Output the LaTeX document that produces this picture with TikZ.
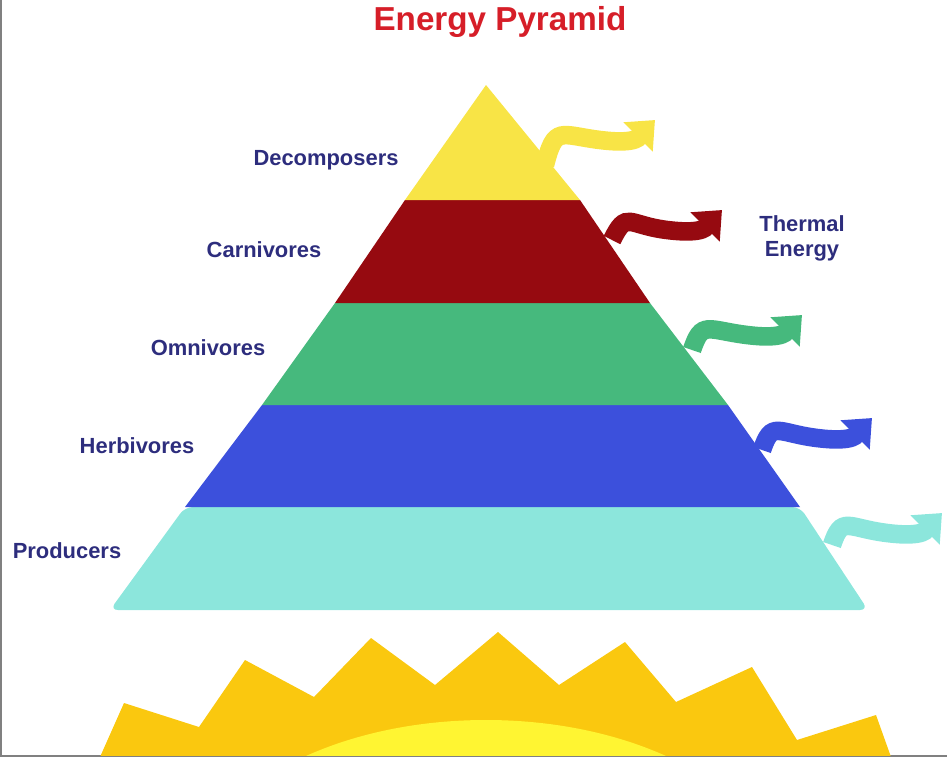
\documentclass[tikz,border=0pt]{standalone}
\usepackage{fontspec}
\setmainfont{Liberation Sans}
\usetikzlibrary{positioning,arrows.meta,calc}

\definecolor{titlered}{RGB}{214,30,40}
\definecolor{labelblue}{RGB}{45,45,125}
\definecolor{decoyellow}{RGB}{248,228,70}
\definecolor{carnred}{RGB}{150,10,16}
\definecolor{omnigreen}{RGB}{70,185,125}
\definecolor{herbblue}{RGB}{60,80,220}
\definecolor{prodcyan}{RGB}{140,230,220}
\definecolor{sunorange}{RGB}{250,200,15}
\definecolor{sunyellow}{RGB}{255,245,50}

\begin{document}
\begin{tikzpicture}[
  x={(0.02646cm,0)}, y={(0,-0.02646cm)},
  lbl/.style={font=\bfseries\fontsize{16.5}{19}\selectfont, text=labelblue},
  heat/.style={line width=14, -{Triangle[length=18,width=30]}}
]
\useasboundingbox (0,0) rectangle (947,757);
\draw[gray, line width=1.5] (1,0) -- (1,756) -- (947,756);

% title
\node[font=\bfseries\fontsize{25}{28}\selectfont, text=titlered] (title) at (500,22) {Energy Pyramid};

% pyramid layers
\fill[prodcyan, rounded corners=6] (185,507) -- (800,507) -- (868,610) -- (110,610) -- cycle;
\fill[herbblue] (262,405) -- (728,405) -- (800,507) -- (185,507) -- cycle;
\fill[omnigreen] (335,303) -- (650,303) -- (728,405) -- (262,405) -- cycle;
\fill[carnred] (405,200) -- (580,200) -- (650,303) -- (335,303) -- cycle;
\fill[decoyellow] (486,85) -- (580,200) -- (405,200) -- cycle;

% heat arrows
\coordinate (dA) at (545,165);
\coordinate (cA) at (612,240);
\coordinate (oA) at (692,350);
\coordinate (hA) at (762,450);
\coordinate (pA) at (832,545);
\draw[heat, decoyellow] (dA) .. controls +(10,-40) and +(-40,-5) .. ++(55,-25) .. controls +(40,5) and +(-15,15) .. ++(55,-20);
\draw[heat, carnred] (cA) .. controls +(15,-30) and +(-40,-5) .. ++(55,-10) .. controls +(40,5) and +(-15,15) .. ++(55,-20);
\draw[heat, omnigreen] (oA) .. controls +(10,-30) and +(-40,-5) .. ++(55,-15) .. controls +(40,5) and +(-15,15) .. ++(55,-20);
\draw[heat, herbblue] (hA) .. controls +(10,-30) and +(-40,-5) .. ++(55,-12) .. controls +(40,5) and +(-15,15) .. ++(55,-20);
\draw[heat, prodcyan] (pA) .. controls +(10,-30) and +(-40,-5) .. ++(55,-12) .. controls +(40,5) and +(-15,15) .. ++(55,-20);

% labels
\node[lbl] (decomp) at (326,160) {Decomposers};
\node[lbl] (carn) at (264,250) {Carnivores};
\node[lbl] (omni) at (208,348) {Omnivores};
\node[lbl] (herb) at (137,446) {Herbivores};
\node[lbl] (prod) at (67,551) {Producers};
\node[lbl, align=center] (thermal) at (802,238) {Thermal\\Energy};

% sun
\begin{scope}
\clip (0,0) rectangle (947,755);
\fill[sunorange] (100,757) -- (124,703) -- (199,727) -- (245,660) -- (314,697) -- (371,638) -- (435,685) -- (498,632) -- (559,685) -- (625,642) -- (676,702) -- (752,667) -- (797,740) -- (876,715) -- (891,757) -- cycle;
\fill[sunyellow] (486,900) ellipse [x radius=300, y radius=180];
\end{scope}
\end{tikzpicture}
\end{document}
